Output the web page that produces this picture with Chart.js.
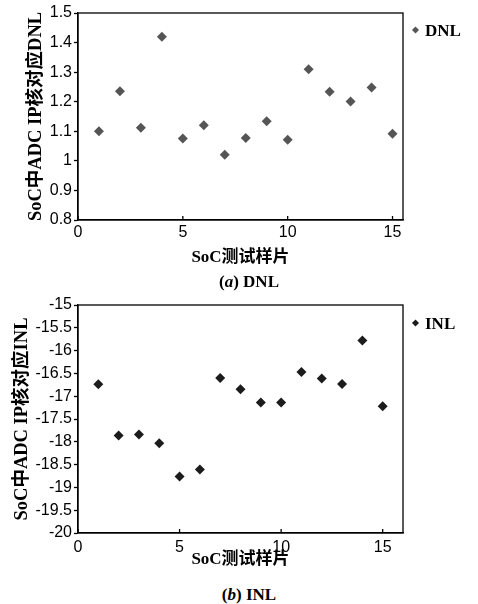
<!DOCTYPE html>
<html><head><meta charset="utf-8">
<script src="https://cdn.jsdelivr.net/npm/chart.js@4/dist/chart.umd.min.js"></script>
<style>
body{margin:0;width:478px;height:604px;background:#fff;position:relative;overflow:hidden}
canvas{position:absolute;left:0}
.cap{position:absolute;font:bold 17px 'Liberation Serif','Noto Sans CJK SC',serif;color:#000;white-space:nowrap;transform:translate(-50%,-50%);line-height:1}
.leg{position:absolute;font:bold 17px 'Liberation Serif',serif;color:#000;display:flex;align-items:center;line-height:1;transform:translateY(-50%)}
.leg i{display:inline-block;width:5px;height:5px;transform:rotate(45deg);margin-right:7px}
</style>
</head><body>
<canvas id="c1" width="478" height="268" style="top:0"></canvas>
<canvas id="c2" width="478" height="280" style="top:290px"></canvas>
<div class="leg" style="left:413px;top:30px"><i style="background:#555"></i>DNL</div>
<div class="leg" style="left:413px;top:323px"><i style="background:#1c1c1c"></i>INL</div>
<div class="cap" style="left:249px;top:281px">(<i>a</i>) DNL</div>
<div class="cap" style="left:249px;top:594px">(<i>b</i>) INL</div>
<script>
const samples = [1,2,3,4,5,6,7,8,9,10,11,12,13,14,15];
const dnlValues = [1.10,1.235,1.112,1.42,1.076,1.12,1.021,1.077,1.134,1.071,1.31,1.234,1.201,1.248,1.092];
const inlValues = [-16.74,-17.86,-17.84,-18.03,-18.76,-18.61,-16.60,-16.85,-17.14,-17.14,-16.47,-16.61,-16.73,-15.78,-17.22];
const xTicks = [0,5,10,15];
const dnlYTicks = [0.8,0.9,1.0,1.1,1.2,1.3,1.4,1.5];
const inlYTicks = [-20,-19.5,-19,-18.5,-18,-17.5,-17,-16.5,-16,-15.5,-15];
const xTitle = 'SoC测试样片';
const dnlYTitle = 'SoC中ADC IP核对应DNL';
const inlYTitle = 'SoC中ADC IP核对应INL';

const tickFont = {family:"'Liberation Sans', Arial, sans-serif", size:16};
const titleFont = {family:"'Liberation Serif','Noto Sans CJK SC',serif", size:18.5, weight:'bold'};

const framePlugin = {
  id:'frame',
  afterDraw(chart){
    const {ctx, chartArea:a, scales} = chart;
    ctx.save();
    ctx.strokeStyle = '#000'; ctx.lineWidth = 1.3;
    ctx.strokeRect(a.left, a.top, a.right-a.left, a.bottom-a.top);
    const xs = scales.x;
    ctx.beginPath();
    xs.ticks.forEach(t => {
      const px = xs.getPixelForValue(t.value);
      ctx.moveTo(px, a.bottom); ctx.lineTo(px, a.bottom-4);
    });
    ctx.stroke();
    ctx.restore();
  }
};

function makeChart(id, label, values, color, xMax, yTicks, yTitle, padTop, xAxisH, xTickPad, yTitlePad){
  const ymin = yTicks[0], ymax = yTicks[yTicks.length-1];
  return new Chart(document.getElementById(id), {
    type:'scatter',
    data:{datasets:[{label, data: samples.map((s,i)=>({x:s, y:values[i]})),
      pointStyle:'rectRot', pointRadius:5, pointHoverRadius:5,
      backgroundColor:color, borderColor:color, borderWidth:0}]},
    options:{
      responsive:false, animation:false, devicePixelRatio:1,
      layout:{padding:{top:padTop, right:75, left:0, bottom:0}},
      plugins:{legend:{display:false}, tooltip:{enabled:false}},
      scales:{
        x:{type:'linear', min:0, max:xMax,
          afterBuildTicks(s){ s.ticks = xTicks.map(v=>({value:v})); },
          afterFit(s){ s.height = xAxisH; },
          grid:{display:true, drawOnChartArea:false, drawTicks:false},
          border:{display:true, color:'#000', width:1.3},
          ticks:{font:tickFont, color:'#000', padding:xTickPad, maxRotation:0, callback:v=>String(v)},
          title:{display:true, text:xTitle, font:{...titleFont, size:17}, color:'#000', padding:{top:0,bottom:0}}
        },
        y:{type:'linear', min:ymin, max:ymax,
          afterBuildTicks(s){ s.ticks = yTicks.map(v=>({value:v})); },
          afterFit(s){ s.width = 78; },
          grid:{display:true, drawOnChartArea:false, drawTicks:true, tickLength:4, color:'#000', tickWidth:1.3},
          border:{display:true, color:'#000', width:1.3},
          ticks:{font:tickFont, color:'#000', padding:2, callback:v=>String(+Number(v).toFixed(2))},
          title:{display:true, text:yTitle, font:titleFont, color:'#000', padding:{top:yTitlePad,bottom:0}}
        }
      }
    },
    plugins:[framePlugin]
  });
}

makeChart('c1','DNL',dnlValues,'#555555',15.5,dnlYTicks,dnlYTitle,13,48,3,25);
makeChart('c2','INL',inlValues,'#1c1c1c',16,inlYTicks,inlYTitle,15,37,5,11);
</script>
</body></html>
